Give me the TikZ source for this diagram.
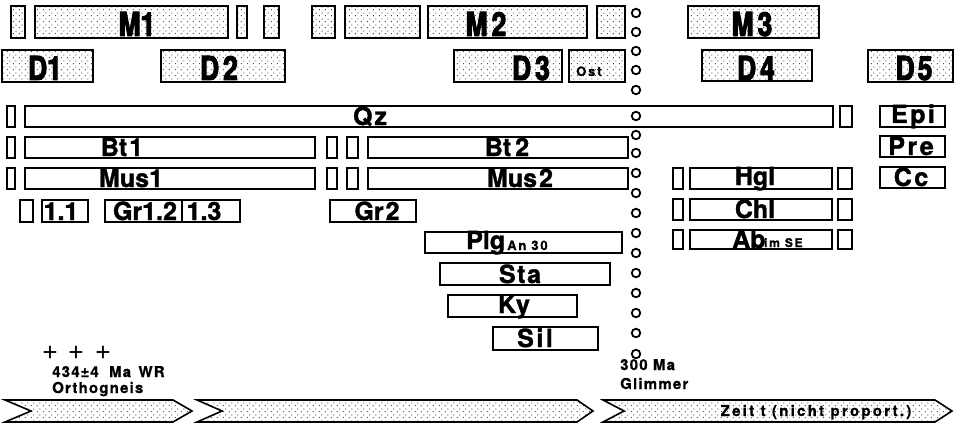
\documentclass[tikz,border=0pt]{standalone}
\usepackage{fontspec}
\setmainfont{TeX Gyre Heros}[BoldFeatures={FakeBold=1.5}]
\newfontfamily\heavy[FakeStretch=0.8,FakeBold=3]{TeX Gyre Heros}
\newfontfamily\midsp[LetterSpace=6,BoldFeatures={FakeBold=1.5}]{TeX Gyre Heros}
\newfontfamily\widesp[LetterSpace=10,BoldFeatures={FakeBold=1.5}]{TeX Gyre Heros}
\newfontfamily\spaced[LetterSpace=8,BoldFeatures={FakeBold=0.8}]{TeX Gyre Heros}
\newfontfamily\smallsp[LetterSpace=14,BoldFeatures={FakeBold=0.8}]{TeX Gyre Heros}
\newfontfamily\zeitfont[LetterSpace=15,BoldFeatures={FakeBold=1}]{TeX Gyre Heros}
\usetikzlibrary{fit,patterns}
\pgfdeclarepatternformonly{stipple}{\pgfpoint{0pt}{0pt}}{\pgfpoint{6pt}{6pt}}{\pgfpoint{6pt}{6pt}}{%
  \pgfpathcircle{\pgfpoint{1.5pt}{1.5pt}}{0.6pt}%
  \pgfpathcircle{\pgfpoint{4.5pt}{4.5pt}}{0.6pt}%
  \pgfusepath{fill}}
\tikzset{
  box/.style={draw, line width=1.6pt, inner sep=0pt},
  dotbox/.style={box, pattern=stipple},
  lbl/.style={font=\fontsize{25}{25}\selectfont\bfseries, inner sep=0pt, anchor=base},
  lblm/.style={lbl, font=\midsp\fontsize{25}{25}\selectfont\bfseries},
  lblw/.style={lbl, font=\widesp\fontsize{25}{25}\selectfont\bfseries},
  big/.style={font=\heavy\fontsize{33}{33}\selectfont\bfseries, inner sep=0pt, anchor=base},
  small/.style={font=\smallsp\fontsize{13}{13}\selectfont\bfseries, inner sep=0pt, anchor=base west},
  note/.style={font=\spaced\fontsize{15}{15}\selectfont\bfseries, inner sep=0pt, anchor=base west},
  plus/.style={font=\fontsize{28}{28}\selectfont, inner sep=0pt},
  ring/.style={circle, draw, line width=1.8pt, minimum size=8.5pt, inner sep=0pt},
  band/.style={draw, line width=1.6pt, pattern=stipple, line join=miter}
}
\newcommand\bx[6][box]{\node[#1, fit={(#3,#4)(#5,#6)}] (#2) {};}
\begin{document}
\begin{tikzpicture}[x=1pt,y=-1pt]
\useasboundingbox (0,0) rectangle (960,425);
% ---- M row
\bx[dotbox]{ma}{11}{6}{25}{38}
\bx[dotbox]{m1}{35}{6}{228}{38}
\bx[dotbox]{mb}{237}{6}{247}{38}
\bx[dotbox]{mc}{264}{6}{279}{38}
\bx[dotbox]{md}{312}{6}{335}{38}
\bx[dotbox]{me}{345}{6}{420}{38}
\bx[dotbox]{m2}{428}{6}{587}{38}
\bx[dotbox]{mf}{597}{6}{625}{38}
\bx[dotbox]{m3}{688}{6}{819}{38}
\node[big] (tm1) at (137,36) {M1};
\node[big] (tm2) at (486,36) {M\hspace{4pt}2};
\node[big] (tm3) at (752,36) {M\hspace{4pt}3};
% ---- D row
\bx[dotbox]{d1}{2}{50}{93}{82}
\bx[dotbox]{d2}{161}{50}{285}{82}
\bx[dotbox]{d3}{454}{50}{562}{82}
\bx[dotbox]{ost}{569}{50}{625}{82}
\bx[dotbox]{d4}{702}{50}{812}{81}
\bx[dotbox]{d5}{868}{50}{953}{82}
\node[big] (td1) at (45,80) {D1};
\node[big] (td2) at (219,80) {D\hspace{4pt}2};
\node[big] (td3) at (531,80) {D\hspace{4pt}3};
\node[big] (td4) at (756,80) {D\hspace{4pt}4};
\node[big] (td5) at (914,80) {D\hspace{3pt}5};
\node[small] (tost) at (576,76) {Ost};
% ---- Qz row
\bx{qa}{7}{106}{15}{127}
\bx{qz}{25}{106}{833}{127}
\bx{qb}{840}{106}{852}{127}
\bx{epi}{880}{106}{945}{127}
\node[lbl] (tqz) at (370,125) {Q\hspace{2pt}z};
\node[lblw] (tepi) at (913,123) {Epi};
% ---- Bt row
\bx{ba}{7}{137}{15}{158}
\bx{bt1}{25}{137}{315}{158}
\bx{bb}{327}{137}{337}{158}
\bx{bc}{347}{137}{358}{158}
\bx{bt2}{368}{137}{628}{158}
\bx{pre}{880}{136}{945}{157}
\node[lbl] (tbt1) at (122,156) {Bt\hspace{2pt}1};
\node[lbl] (tbt2) at (507,156) {Bt\hspace{4pt}2};
\node[lblw] (tpre) at (911,155) {Pre};
% ---- Mus row
\bx{mua}{7}{168}{15}{189}
\bx{mus1}{25}{168}{315}{189}
\bx{mub}{327}{168}{337}{189}
\bx{muc}{347}{168}{358}{189}
\bx{mus2}{368}{168}{628}{189}
\bx{ha}{673}{168}{683}{189}
\bx{hgl}{690}{168}{832}{189}
\bx{hb}{838}{168}{852}{189}
\bx{cc}{880}{167}{945}{188}
\node[lbl] (tmus1) at (131,187) {Mus1};
\node[lbl] (tmus2) at (520,187) {Mus\hspace{2pt}2};
\node[lbl] (thgl) at (755,185) {Hgl};
\node[lblw] (tcc) at (911,186) {Cc};
% ---- Gr row
\bx{ga}{20}{200}{33}{222}
\bx{g11}{42}{200}{88}{222}
\bx{g12}{105}{200}{182}{222}
\bx{g13}{182}{200}{240}{222}
\bx{gr2}{330}{200}{416}{222}
\bx{ca}{673}{199}{683}{220}
\bx{chl}{690}{199}{832}{220}
\bx{cb}{838}{199}{852}{220}
\node[lbl] (t11) at (61,220) {1.1};
\node[lbl] (t12) at (145,220) {Gr1.2};
\node[lbl] (t13) at (204,220) {1.3};
\node[lbl] (tgr2) at (377,220) {Gr\hspace{2pt}2};
\node[lbl] (tchl) at (755,218) {Chl};
% ---- Plg / Ab row
\bx{plg}{425}{232}{622}{253}
\bx{aa}{673}{230}{683}{249}
\bx{ab}{690}{230}{832}{249}
\bx{abb}{838}{230}{852}{249}
\node[lbl, anchor=base west] (tplg) at (466,249) {Plg};
\node[small] (tan) at (507,250) {An\hspace{5pt}30};
\node[lbl, anchor=base west] (tab) at (732,248) {Ab};
\node[small, font=\smallsp\fontsize{12}{12}\selectfont\bfseries] (tim) at (764,247) {im SE};
% ---- Sta, Ky, Sil
\bx{sta}{440}{263}{610}{285}
\bx{ky}{448}{295}{577}{317}
\bx{sil}{493}{327}{598}{350}
\node[lblm] (tsta) at (520,283) {Sta};
\node[lblm] (tky) at (514,313) {Ky};
\node[lblw] (tsil) at (535,347) {Sil};
% ---- ring column
\foreach \yy [count=\i] in {13,32,51,70,90,116,135,153,173,193,213,233,253,273,293,313,333,354}
  \node[ring] (r\i) at (636,\yy) {};
\node[note] (t300) at (620,370) {300 Ma};
\node[note] (tglim) at (620,389) {Glimmer};
% ---- left notes
\node[plus] (p1) at (50,353) {+};
\node[plus] (p2) at (76,353) {+};
\node[plus] (p3) at (103,353) {+};
\node[note] (t434) at (52,377) {434\hspace{1pt}±\hspace{1pt}4 \hspace{5pt}Ma\hspace{2pt} WR};
\node[note] (torth) at (52,393) {Orthogneis};
% ---- time arrows
\draw[band] (5,400) -- (173,400) -- (192,411) -- (173,422) -- (5,422) -- (31,411) -- cycle;
\draw[band] (197,400) -- (577,400) -- (593,411) -- (577,422) -- (197,422) -- (222,411) -- cycle;
\draw[band] (603,400) -- (935,400) -- (952,411) -- (935,422) -- (603,422) -- (624,411) -- cycle;
\node[font=\zeitfont\fontsize{15}{15}\selectfont\bfseries, inner sep=0pt, anchor=base] (tzeit) at (816,416) {Zeit t (nicht proport.)};
\end{tikzpicture}
\end{document}
